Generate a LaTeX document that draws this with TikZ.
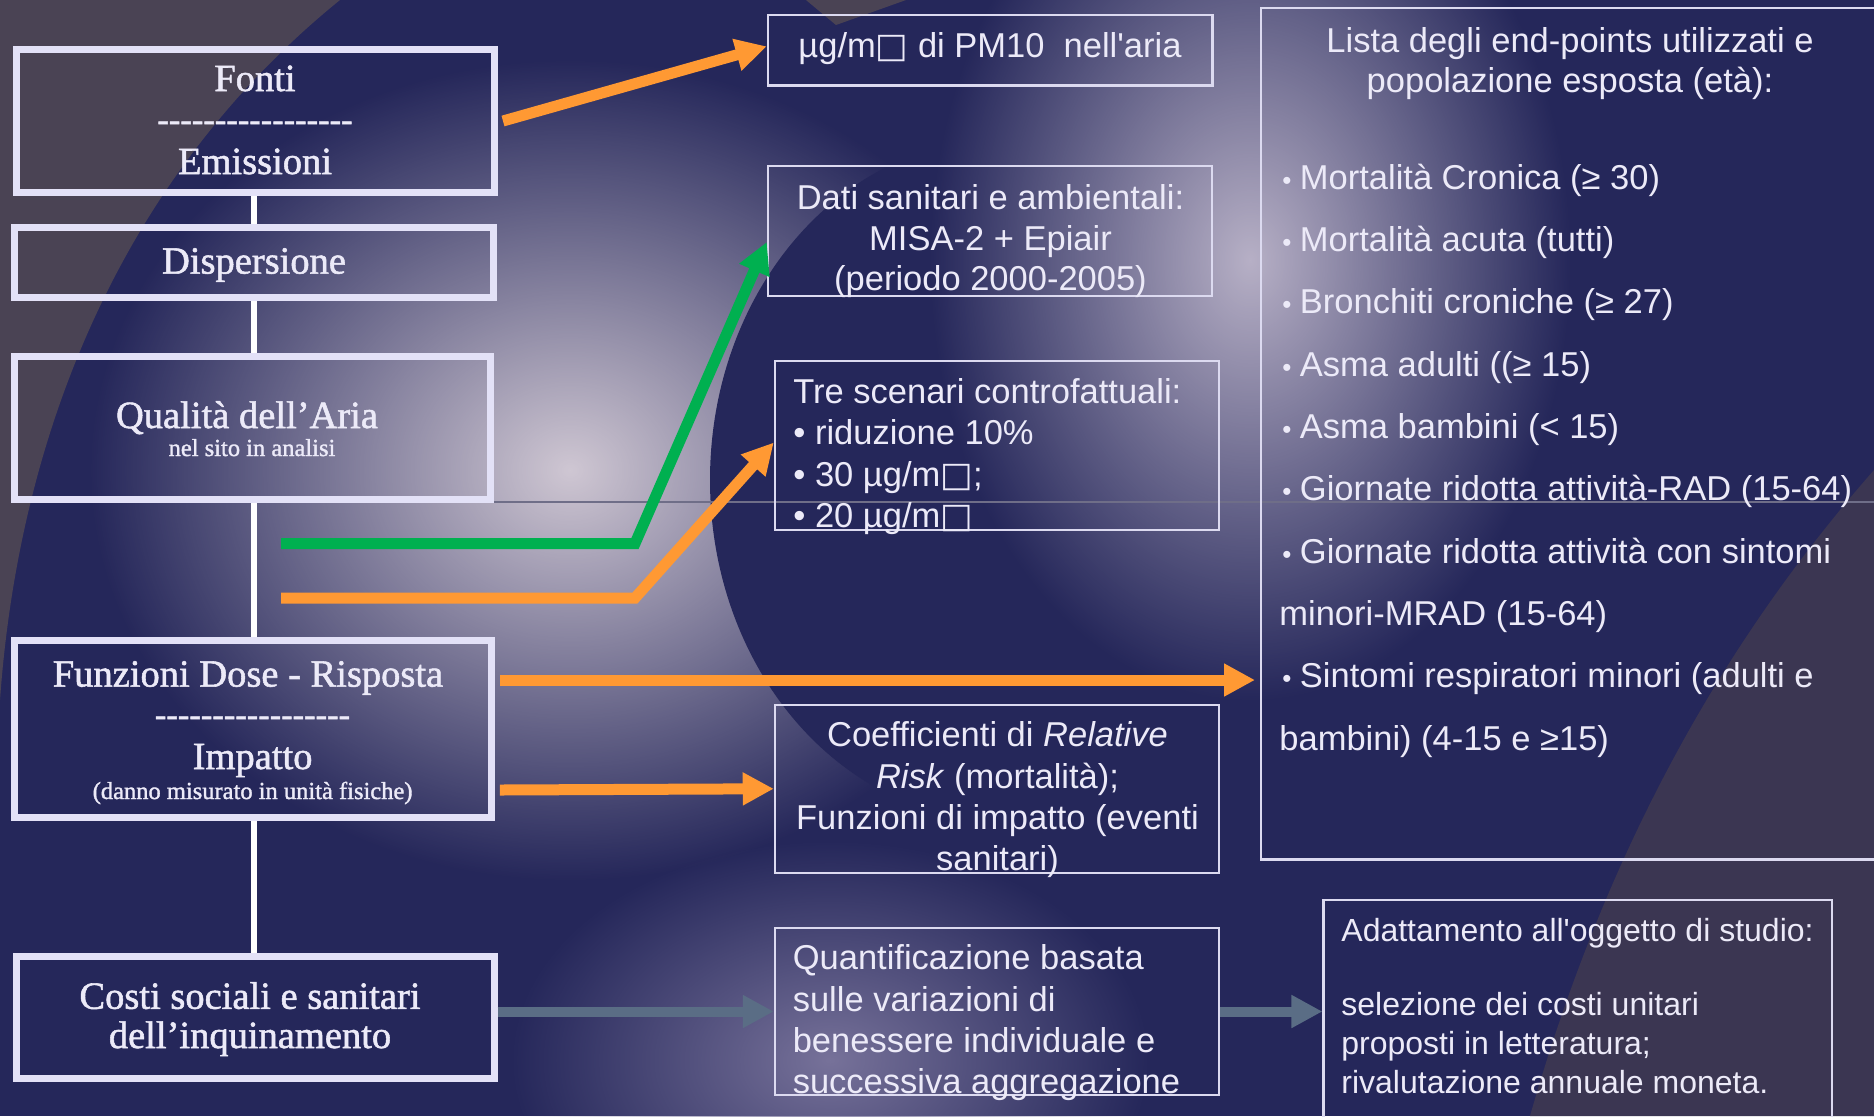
\documentclass[tikz,border=0pt]{standalone}
\usepackage{fontspec}
\setmainfont{Liberation Serif}
\newfontfamily\pal[FakeBold=1.4]{Liberation Serif}
\newfontfamily\ari{Liberation Sans}
\newfontfamily\dej{DejaVu Sans}
\usetikzlibrary{arrows.meta,calc,fadings}
\tikzfading[name=glowfade, inner color=transparent!0, outer color=transparent!100]
\definecolor{navy}{HTML}{25275A}
\definecolor{greyc}{HTML}{4A4354}
\definecolor{greyr}{HTML}{3B3652}
\definecolor{glowa}{HTML}{CFC7D3}
\definecolor{glowb}{HTML}{B7B0C6}
\definecolor{glowc}{HTML}{77729A}
\definecolor{boxc}{HTML}{E3E1F7}
\definecolor{rboxc}{HTML}{DCDAF0}
\definecolor{txtc}{HTML}{ECEAF8}
\definecolor{orng}{HTML}{FF9933}
\definecolor{grn}{HTML}{00B050}
\definecolor{gblue}{HTML}{5A6D85}
\definecolor{faint}{HTML}{6F6E88}
\newcommand\sqb{{\dej □}}
\newcommand\dashrow{\mbox{-}\mbox{-}\mbox{-}\mbox{-}\mbox{-}\mbox{-}\mbox{-}\mbox{-}\mbox{-}\mbox{-}\mbox{-}\mbox{-}\mbox{-}\mbox{-}\mbox{-}\mbox{-}\mbox{-}}
\newcommand\lbul{{\fontsize{13}{13}\selectfont •}\hspace{4.2pt}}
\begin{document}
\begin{tikzpicture}[x=0.5pt,y=-0.5pt,
  lbox/.style={draw=boxc, line width=3.5pt, inner sep=0pt},
  rbox/.style={draw=rboxc, line width=1.25pt, inner sep=0pt},
  ltxt/.style={anchor=base, inner sep=0pt, text=txtc, font=\pal\fontsize{19.25}{23}\selectfont},
  lsmall/.style={ltxt, font=\pal\fontsize{12.25}{14}\selectfont},
  ldash/.style={ltxt, font=\pal\fontsize{17.25}{20}\selectfont},
  rtxt/.style={anchor=base, inner sep=0pt, text=txtc, font=\ari\fontsize{17.25}{20}\selectfont},
  rtxtl/.style={rtxt, anchor=base west},
  atxt/.style={rtxtl, font=\ari\fontsize{16}{19}\selectfont},
  conn/.style={draw=white, line width=3pt},
  oarrow/.style={draw=orng, line width=5.5pt, line join=miter, -{Triangle[length=15.5pt,width=15.5pt]}},
  garrow/.style={oarrow, draw=grn},
  barrow/.style={oarrow, draw=gblue, line width=5pt},
]
\useasboundingbox (0,0) rectangle (1874,1116);
\clip (0,0) rectangle (1874,1116);
% background
\fill[navy] (0,0) rectangle (1874,1116);
\fill[greyc] (0,0) -- (340,0) .. controls (130,170) and (20,420) .. (0,700) -- cycle;
\fill[greyc] (806,0) -- (906,0) -- (836,25) -- cycle;
\fill[greyr] (1874,470) .. controls (1760,600) and (1620,800) .. (1530,1116) -- (1874,1116) -- cycle;
\fill[glowa, path fading=glowfade] (570,470) ellipse [x radius=240pt, y radius=205pt];
\fill[glowc, path fading=glowfade] (830,1060) ellipse [x radius=160pt, y radius=110pt];
\fill[navy] (1000,480) ellipse [x radius=145pt, y radius=170pt];
\fill[glowb, path fading=glowfade] (1250,260) ellipse [x radius=160pt, y radius=220pt];
\draw[faint, line width=0.6pt] (494,502) -- (1874,502);
% left boxes
\node[lbox, minimum width=239pt, minimum height=71.65pt] (fonti) at (255.5,121) {};
\node[lbox, minimum width=239.5pt, minimum height=35pt] (disp) at (253.8,262.5) {};
\node[lbox, minimum width=238.2pt, minimum height=71.5pt] (qual) at (252.5,427.5) {};
\node[lbox, minimum width=238.5pt, minimum height=88.5pt] (funz) at (252.9,729) {};
\node[lbox, minimum width=238.65pt, minimum height=60.75pt] (costi) at (255.4,1017.3) {};
\draw[conn] (disp.north |- fonti.south) -- (disp.north);
\draw[conn] (disp.south) -- (disp.south |- qual.north);
\draw[conn] (disp.south |- qual.south) -- (disp.south |- funz.north);
\draw[conn] (disp.south |- funz.south) -- (disp.south |- costi.north);
% right boxes
\node[rbox, minimum width=222.25pt, minimum height=35.35pt] (pm) at (990.25,50.35) {};
\node[rbox, minimum width=222pt, minimum height=65pt] (dati) at (990,231) {};
\node[rbox, minimum width=222pt, minimum height=84.5pt] (tre) at (997,445.5) {};
\node[rbox, minimum width=222pt, minimum height=84pt] (coef) at (997,788.75) {};
\node[rbox, minimum width=222pt, minimum height=83.5pt] (quant) at (997,1011.5) {};
\node[rbox, minimum width=314.5pt, minimum height=425.8pt] (lista) at (1575.5,433.8) {};
\node[rbox, minimum width=254.15pt, minimum height=115pt] (adat) at (1577.85,1015) {};
% left texts
\node[ltxt] (tfonti) at (255,91) {Fonti};
\node[ldash] (tdash1) at (255,131) {\dashrow};
\node[ltxt] (temis) at (255,174) {Emissioni};
\node[ltxt] (tdisp) at (254,273.6) {Dispersione};
\node[ltxt] (tqual) at (247,428) {Qualità dell’Aria};
\node[lsmall] (tsito) at (252,456) {nel sito in analisi};
\node[ltxt] (tfunz) at (248,686.6) {Funzioni Dose - Risposta};
\node[ldash] (tdash2) at (252.5,726) {\dashrow};
\node[ltxt] (timp) at (252.6,769) {Impatto};
\node[lsmall] (tdanno) at (252.6,799) {(danno misurato in unità fisiche)};
\node[ltxt] (tcosti1) at (250,1008.8) {Costi sociali e sanitari};
\node[ltxt] (tcosti2) at (250,1048) {dell’inquinamento};
% right texts
\node[rtxt] (tpm) at (990,57) {µg/m\sqb\ di PM10\ \ nell'aria};
\node[rtxt] (tdati1) at (990.5,209) {Dati sanitari e ambientali:};
\node[rtxt] (tdati2) at (990.5,250) {MISA-2 + Epiair};
\node[rtxt] (tdati3) at (990.5,290.5) {(periodo 2000-2005)};
\node[rtxtl] (ttre1) at (793,403) {Tre scenari controfattuali:};
\node[rtxtl] (ttre2) at (793,444.5) {• riduzione 10\%};
\node[rtxtl] (ttre3) at (793,486) {• 30 µg/m\sqb;};
\node[rtxtl] (ttre4) at (793,527) {• 20 µg/m\sqb};
\node[rtxt] (tcoef1) at (997.5,746) {Coefficienti di \textit{Relative}};
\node[rtxt] (tcoef2) at (997.5,788.7) {\textit{Risk} (mortalità);};
\node[rtxt] (tcoef3) at (997.5,829.5) {Funzioni di impatto (eventi};
\node[rtxt] (tcoef4) at (997.5,870) {sanitari)};
\node[rtxtl] (tq1) at (792.4,969.5) {Quantificazione basata};
\node[rtxtl] (tq2) at (792.4,1011) {sulle variazioni di};
\node[rtxtl] (tq3) at (792.4,1052.4) {benessere individuale e};
\node[rtxtl] (tq4) at (792.4,1093.8) {successiva aggregazione};
\node[rtxt] (tl1) at (1570,52) {Lista degli end-points utilizzati e};
\node[rtxt] (tl2) at (1570,92) {popolazione esposta (età):};
\node[rtxtl] (tl3) at (1282,189) {\lbul Mortalità Cronica (≥ 30)};
\node[rtxtl] (tl4) at (1282,251.4) {\lbul Mortalità acuta (tutti)};
\node[rtxtl] (tl5) at (1282,313.7) {\lbul Bronchiti croniche (≥ 27)};
\node[rtxtl] (tl6) at (1282,376) {\lbul Asma adulti ((≥ 15)};
\node[rtxtl] (tl7) at (1282,438.4) {\lbul Asma bambini (< 15)};
\node[rtxtl] (tl8) at (1282,500.8) {\lbul Giornate ridotta attività-RAD (15-64)};
\node[rtxtl] (tl9) at (1282,563) {\lbul Giornate ridotta attività con sintomi};
\node[rtxtl] (tl10) at (1279,625.5) {minori-MRAD (15-64)};
\node[rtxtl] (tl11) at (1282,687.8) {\lbul Sintomi respiratori minori (adulti e};
\node[rtxtl] (tl12) at (1279,750) {bambini) (4-15 e ≥15)};
\node[atxt] (ta1) at (1341,941) {Adattamento all'oggetto di studio:};
\node[atxt] (ta2) at (1341,1015.6) {selezione dei costi unitari};
\node[atxt] (ta3) at (1341,1054.6) {proposti in letteratura;};
\node[atxt] (ta4) at (1341,1093.7) {rivalutazione annuale moneta.};
% connectors
\coordinate (gs) at (281,543.5);
\coordinate (gk) at (635,543.5);
\coordinate (os) at (281,598);
\coordinate (ok) at (635,598);
\coordinate (lt) at (1255,680);
\draw[oarrow] ($(fonti.east)+(5,0)$) -- ($(pm.west)+(0,-4)$);
\draw[garrow] (gs) -- (gk) -- ($(dati.west)+(0,11)$);
\draw[oarrow] (os) -- (ok) -- ($(tre.west)+(0,-3)$);
\draw[oarrow] ($(funz.east)+(5,-49)$) -- (lt);
\draw[oarrow] ($(funz.east)+(5,61)$) -- (coef.west);
\draw[barrow] (costi.east |- quant.west) -- (quant.west);
\draw[barrow] (quant.east) -- (adat.west |- quant.east);
\end{tikzpicture}
\end{document}
